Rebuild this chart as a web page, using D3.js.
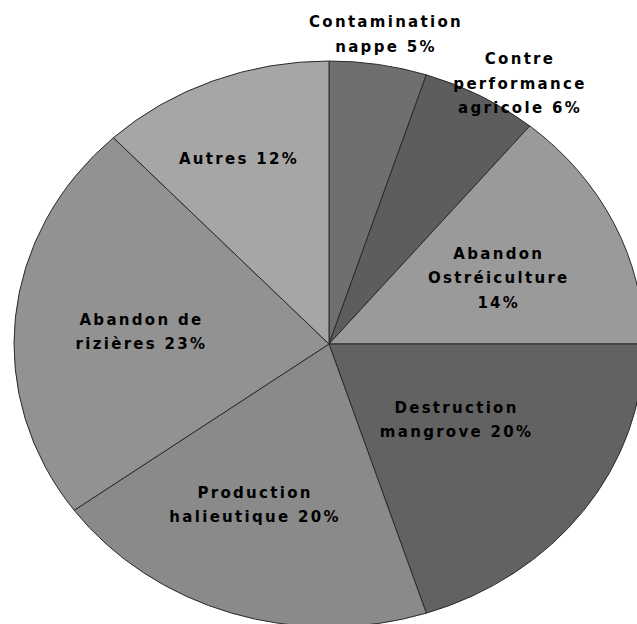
<!DOCTYPE html>
<html>
<head>
<meta charset="utf-8">
<script src="https://cdn.jsdelivr.net/npm/d3@7"></script>
<style>
  body { margin: 0; background: #fff; }
  svg { display: block; }
  .lbl { font-family: "DejaVu Sans", sans-serif; font-weight: bold; font-size: 15px; letter-spacing: 2.3px; fill: #000; }
</style>
</head>
<body>
<svg width="637" height="624"></svg>
<script>
// slices, clockwise from 12 o'clock
var categories = ["Contamination nappe", "Contre performance agricole", "Abandon Ostréiculture",
  "Destruction mangrove", "Production halieutique", "Abandon de rizières", "Autres"];
var values = [5, 6, 14, 20, 20, 23, 12];
var labelLines = [
  ["Contamination", "nappe 5%"],
  ["Contre", "performance", "agricole 6%"],
  ["Abandon", "Ostréiculture", "14%"],
  ["Destruction", "mangrove 20%"],
  ["Production", "halieutique 20%"],
  ["Abandon de", "rizières 23%"],
  ["Autres 12%"]
];

var colors = ["#6f6f6f", "#5d5d5d", "#9a9a9a", "#626262", "#8a8a8a", "#929292", "#a6a6a6"];
// label placement: distance from centre and angle shift (degrees) from the slice middle
var labelRadius = [349, 347, 185, 153, 194, 188, 225];
var labelShift = [0.4, 4.6, 1.8, -2.5, 4.4, -1.4, -2];

var svg = d3.select("svg"),
  cx = 329, cy = 344,
  radius = 315,
  squash = 283 / 315,
  lineH = 24.5;

var pie = d3.pie().sort(null).value(function (d) { return d; });
var arcs = pie(values);

var arc = d3.arc().innerRadius(0).outerRadius(radius);

var g = svg.append("g")
  .attr("transform", "translate(" + cx + "," + cy + ") scale(1," + squash + ")");

g.selectAll("path")
  .data(arcs)
  .enter()
  .append("path")
  .attr("d", arc)
  .attr("fill", function (d, i) { return colors[i]; })
  .attr("stroke", "#2a2a2a")
  .attr("stroke-width", 1)
  .attr("vector-effect", "non-scaling-stroke");

var labels = svg.append("g").attr("transform", "translate(" + cx + "," + cy + ")");

arcs.forEach(function (d, i) {
  var a = (d.startAngle + d.endAngle) / 2 + labelShift[i] * Math.PI / 180;
  var x = labelRadius[i] * Math.sin(a),
    y = -labelRadius[i] * Math.cos(a) * squash;
  var lines = labelLines[i];
  var t = labels.append("text")
    .attr("class", "lbl")
    .attr("text-anchor", "middle");
  lines.forEach(function (line, j) {
    t.append("tspan")
      .attr("x", x)
      .attr("y", y + (j - (lines.length - 1) / 2) * lineH + 5)
      .text(line);
  });
});
</script>
</body>
</html>
